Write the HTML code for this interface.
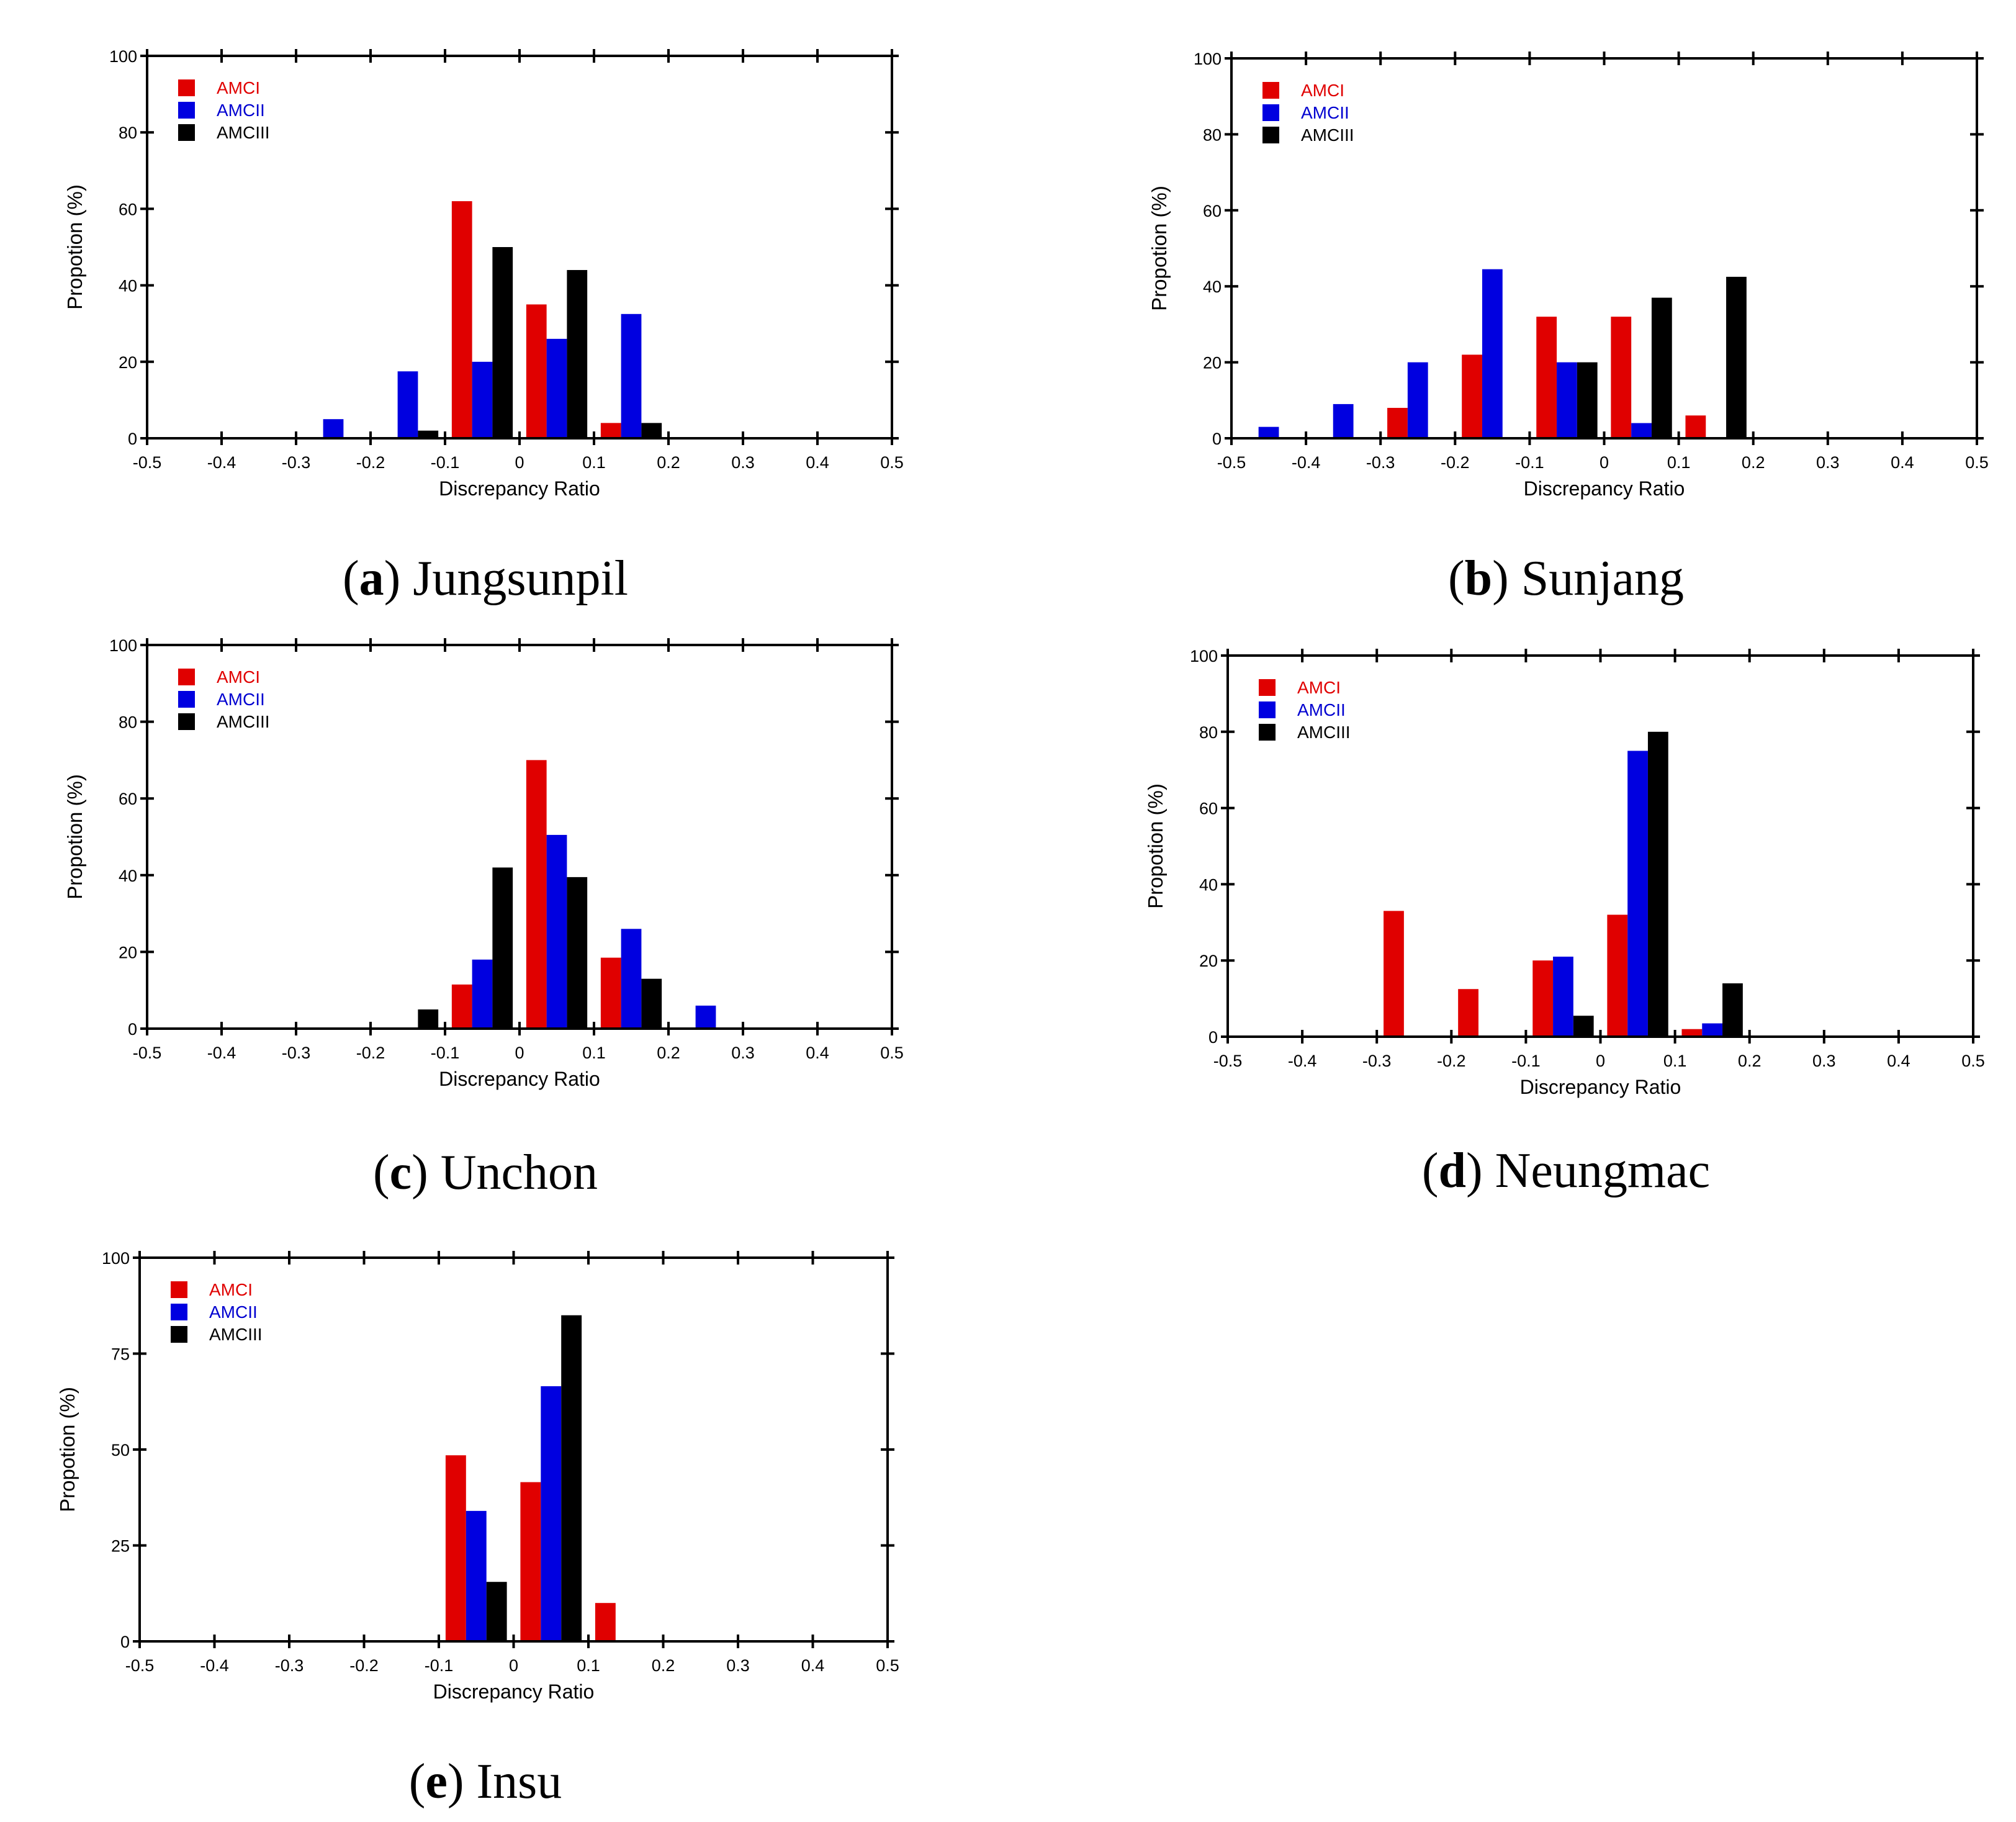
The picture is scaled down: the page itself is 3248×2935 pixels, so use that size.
<!DOCTYPE html>
<html><head><meta charset="utf-8"><style>
html,body{margin:0;padding:0;background:#fff;}
svg{display:block;}
</style></head>
<body>
<svg id="fig" xmlns="http://www.w3.org/2000/svg" width="3248" height="2935" viewBox="0 0 3248 2935"></svg>
<script>
// Shared axis data
const xTicks = [-0.5,-0.4,-0.3,-0.2,-0.1,0,0.1,0.2,0.3,0.4,0.5];
const xTickLabels = ["-0.5","-0.4","-0.3","-0.2","-0.1","0","0.1","0.2","0.3","0.4","0.5"];
const seriesNames = ["AMCI","AMCII","AMCIII"];

// (a) Jungsunpil
const aCenters = [-0.25,-0.15,-0.05,0.05,0.15];
const aRed   = [0,0,62,35,4];
const aBlue  = [5,17.5,20,26,32.5];
const aBlack = [0,2,50,44,4];
// (b) Sunjang
const bCenters = [-0.45,-0.35,-0.25,-0.15,-0.05,0.05,0.15];
const bRed   = [0,0,8,22,32,32,6];
const bBlue  = [3,9,20,44.5,20,4,0];
const bBlack = [0,0,0,0,20,37,42.5];
// (c) Unchon
const cCenters = [-0.15,-0.05,0.05,0.15,0.25];
const cRed   = [0,11.5,70,18.5,0];
const cBlue  = [0,18,50.5,26,6];
const cBlack = [5,42,39.5,13,0];
// (d) Neungmac
const dCenters = [-0.25,-0.15,-0.05,0.05,0.15];
const dRed   = [33,12.5,20,32,2];
const dBlue  = [0,0,21,75,3.5];
const dBlack = [0,0,5.5,80,14];
// (e) Insu
const eCenters = [-0.05,0.05,0.15];
const eRed   = [48.5,41.5,10];
const eBlue  = [34,66.5,0];
const eBlack = [15.5,85,0];

const yTicksA = [0,20,40,60,80,100];
const yTicksE = [0,25,50,75,100];

const NS="http://www.w3.org/2000/svg";
const svg=document.getElementById('fig');
function mk(tag,attrs,parent){const e=document.createElementNS(NS,tag);for(const k in attrs)e.setAttribute(k,attrs[k]);(parent||svg).appendChild(e);return e;}
const COLORS=["#e00000","#0000e0","#000000"];
const TEXTCOL=["#e00000","#0000d0","#000000"];

function chart(id,box,centers,series,yTicks,caption,capLetter,capX,capY){
  const g=mk('g',{});
  
  
  const L=box[0],R=box[1],T=box[2],B=box[3];
  const xs=v=>L+(v+0.5)/1.0*(R-L);
  const ys=v=>B-v/100*(B-T);
  const bw=0.0273;
  series.forEach((vals,si)=>{
    vals.forEach((v,i)=>{
      if(v<=0)return;
      const c=centers[i]+(si-1)*bw;
      const x0=xs(c-bw/2),x1=xs(c+bw/2);
      const r=mk('rect',{x:x0,y:ys(v),width:x1-x0,height:ys(0)-ys(v),fill:COLORS[si]},g);
      
      
    });
  });
  const fr=mk('rect',{x:L,y:T,width:R-L,height:B-T,fill:'none',stroke:'#000','stroke-width':4},g);
  
  
  xTicks.forEach((t,i)=>{
    const x=xs(t);
    mk('line',{x1:x,x2:x,y1:B-11,y2:B+11,stroke:'#000','stroke-width':4},g);
    mk('line',{x1:x,x2:x,y1:T-11,y2:T+11,stroke:'#000','stroke-width':4},g);
    const tx=mk('text',{x:x,y:B+48,'font-size':27,'text-anchor':'middle','font-family':'Liberation Sans, sans-serif',fill:'#000'},g);
    tx.textContent=xTickLabels[i];
    
    
  });
  yTicks.forEach(t=>{
    const y=ys(t);
    mk('line',{x1:L-11,x2:L+11,y1:y,y2:y,stroke:'#000','stroke-width':4},g);
    mk('line',{x1:R-11,x2:R+11,y1:y,y2:y,stroke:'#000','stroke-width':4},g);
    const tx=mk('text',{x:L-16,y:y+10,'font-size':27,'text-anchor':'end','font-family':'Liberation Sans, sans-serif',fill:'#000'},g);
    tx.textContent=String(t);
    
    
  });
  const xt=mk('text',{x:(L+R)/2,y:B+92,'font-size':32,'text-anchor':'middle','font-family':'Liberation Sans, sans-serif',fill:'#000'},g);
  xt.textContent='Discrepancy Ratio';
  
  
  const yx=L-105,yy=(T+B)/2;
  const yt=mk('text',{x:yx,y:yy,'font-size':33,'text-anchor':'middle','font-family':'Liberation Sans, sans-serif',fill:'#000',transform:`rotate(-90 ${yx} ${yy})`},g);
  yt.textContent='Propotion (%)';
  
  
  seriesNames.forEach((n,si)=>{
    const ly=T+38+si*36;
    const sq=mk('rect',{x:L+50,y:ly,width:27,height:27,fill:COLORS[si]},g);
    
    
    const lt=mk('text',{x:L+112,y:ly+23,'font-size':28,'font-family':'Liberation Sans, sans-serif',fill:TEXTCOL[si]},g);
    lt.textContent=n;
    
    
  });
  const ct=mk('text',{x:capX,y:capY,'font-size':80,'text-anchor':'middle','font-family':'Liberation Serif, serif',fill:'#000'},g);
  
  
  const t1=mk('tspan',{},ct);t1.textContent='(';
  const t2=mk('tspan',{'font-weight':'bold'},ct);t2.textContent=capLetter;
  const t3=mk('tspan',{},ct);t3.textContent=') '+caption;
}

chart('a',[237,1437,90,706],aCenters,[aRed,aBlue,aBlack],yTicksA,'Jungsunpil','a',782,958);
chart('b',[1984,3185,94,706],bCenters,[bRed,bBlue,bBlack],yTicksA,'Sunjang','b',2523,958);
chart('c',[237,1437,1039,1657],cCenters,[cRed,cBlue,cBlack],yTicksA,'Unchon','c',782,1915);
chart('d',[1978,3179,1056,1670],dCenters,[dRed,dBlue,dBlack],yTicksA,'Neungmac','d',2523,1912);
chart('e',[225,1430,2026,2644],eCenters,[eRed,eBlue,eBlack],yTicksE,'Insu','e',782,2896);
</script>
</body></html>
